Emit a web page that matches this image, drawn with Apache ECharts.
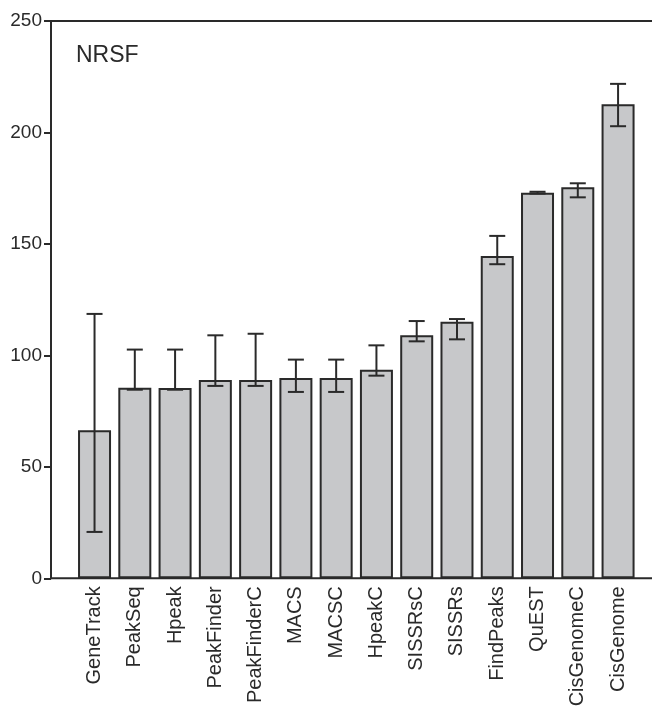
<!DOCTYPE html>
<html>
<head>
<meta charset="utf-8">
<script src="https://cdn.jsdelivr.net/npm/echarts@6/dist/echarts.min.js"></script>
<style>
  html, body { margin: 0; padding: 0; background: #fff; }
  #main { width: 652px; height: 706px; }
</style>
</head>
<body>
<div id="main"></div>
<script>
// NRSF - mean with error bars per method
var methods = ["GeneTrack", "PeakSeq", "Hpeak", "PeakFinder", "PeakFinderC", "MACS", "MACSC",
    "HpeakC", "SISSRsC", "SISSRs", "FindPeaks", "QuEST", "CisGenomeC", "CisGenome"];
var means = [66.4, 85.5, 85.4, 89.0, 89.0, 89.9, 89.9, 93.6, 109.0, 115.1, 144.6, 173.0, 175.4, 212.6];
var errLow = [20.8, 84.6, 84.6, 86.3, 86.3, 83.6, 83.6, 90.9, 106.3, 107.2, 140.9, 172.6, 170.9, 202.8];
var errHigh = [118.6, 102.6, 102.6, 109.0, 109.7, 98.1, 98.1, 104.5, 115.4, 116.3, 153.6, 173.4, 177.2, 221.8];
var yTicks = [0, 50, 100, 150, 200, 250];

var ink = "#2a2a2a";
var font = "Liberation Sans";

var errData = methods.map(function (m, i) {
    return [i, errLow[i], errHigh[i]];
});

function renderErr(params, api) {
    var i = api.value(0);
    var lo = api.coord([i, api.value(1)]);
    var hi = api.coord([i, api.value(2)]);
    var w = 8;
    var st = {stroke: ink, lineWidth: 2};
    return {
        type: "group",
        children: [
            {type: "line", shape: {x1: hi[0], y1: hi[1], x2: lo[0], y2: lo[1]}, style: st},
            {type: "line", shape: {x1: hi[0] - w, y1: hi[1], x2: hi[0] + w, y2: hi[1]}, style: st},
            {type: "line", shape: {x1: lo[0] - w, y1: lo[1], x2: lo[0] + w, y2: lo[1]}, style: st}
        ]
    };
}

var chart = echarts.init(document.getElementById("main"));
chart.setOption({
    animation: false,
    backgroundColor: "#fff",
    title: {
        text: "NRSF",
        left: 76,
        top: 44,
        padding: 0,
        textStyle: {fontFamily: font, fontSize: 23, fontWeight: "normal", color: ink}
    },
    grid: [
        // frame with the y axis, runs off the right edge
        {left: 51, width: 660, top: 21, bottom: 127.7, show: true, borderColor: ink, borderWidth: 2,
            outerBoundsMode: "none"},
        // bars
        {left: 74.4, right: 13.8, top: 21, bottom: 127.7, outerBoundsMode: "none"}
    ],
    xAxis: [
        {gridIndex: 0, type: "value", min: 0, max: 1, show: false},
        {
            gridIndex: 1,
            type: "category",
            data: methods,
            axisLine: {show: false},
            axisTick: {show: false},
            axisLabel: {
                interval: 0,
                rotate: 90,
                margin: 8,
                fontFamily: font,
                fontSize: 20,
                color: ink
            }
        }
    ],
    yAxis: [
        {
            gridIndex: 0,
            type: "value",
            min: 0,
            max: 250,
            interval: 50,
            axisLine: {show: true, lineStyle: {color: ink, width: 2}},
            axisTick: {show: true, length: 7, lineStyle: {color: ink, width: 2}},
            axisLabel: {
                margin: 9,
                fontFamily: font,
                fontSize: 19,
                color: ink,
                formatter: function (v) { return yTicks.indexOf(v) >= 0 ? String(v) : ""; }
            },
            splitLine: {show: false}
        },
        {gridIndex: 1, type: "value", min: 0, max: 250, show: false}
    ],
    series: [
        {
            type: "bar",
            xAxisIndex: 1,
            yAxisIndex: 1,
            data: means,
            barWidth: 33,
            itemStyle: {color: "#c7c8ca", borderColor: ink, borderWidth: 2}
        },
        {
            type: "custom",
            xAxisIndex: 1,
            yAxisIndex: 1,
            data: errData,
            renderItem: renderErr,
            z: 5
        }
    ]
});
</script>
</body>
</html>
